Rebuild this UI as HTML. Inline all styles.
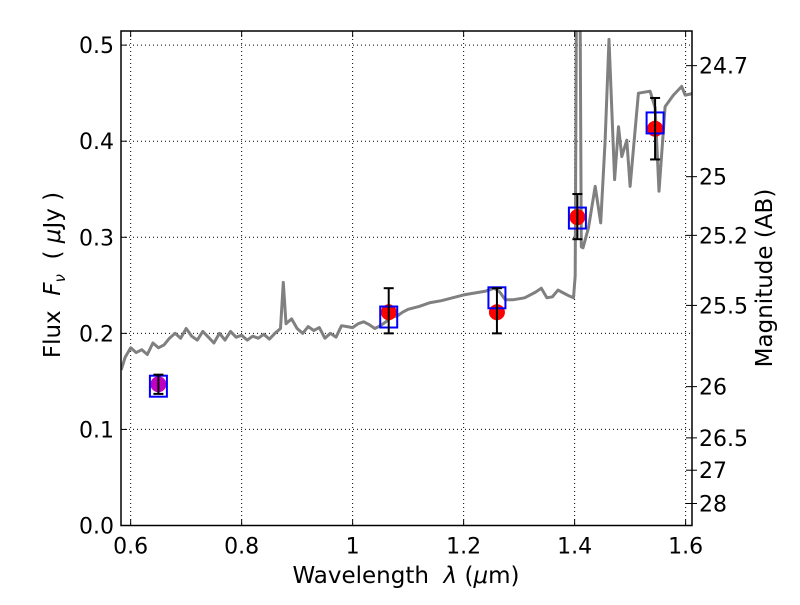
<!DOCTYPE html>
<html><head><meta charset="utf-8"><style>
body{margin:0;background:#fff}
svg text{font-family:"DejaVu Sans","Liberation Sans",sans-serif;fill:#000}
</style></head><body>
<svg id="chart" width="800" height="600" xmlns="http://www.w3.org/2000/svg">
<rect x="0" y="0" width="800" height="600" fill="#fff"/>
<g id="grid"></g>
<g id="spec"></g>
<g id="pts"></g>
<g id="axes"></g>
</svg>
<script>
const xTicks=[0.6,0.8,1.0,1.2,1.4,1.6];
const xTickLabels=["0.6","0.8","1","1.2","1.4","1.6"];
const yTicks=[0,0.1,0.2,0.3,0.4,0.5];
const yTickLabels=["0.0","0.1","0.2","0.3","0.4","0.5"];
const magTicks=[24.7,25,25.2,25.5,26,26.5,27,28];
const magTickLabels=["24.7","25","25.2","25.5","26","26.5","27","28"];
const specWave=[0.583,0.59,0.6,0.61,0.62,0.63,0.64,0.65,0.66,0.67,0.68,0.69,0.70,0.71,0.72,0.73,0.74,0.75,0.76,0.77,0.78,0.79,0.80,0.81,0.82,0.83,0.84,0.85,0.86,0.87,0.875,0.88,0.89,0.90,0.91,0.92,0.93,0.94,0.95,0.96,0.97,0.98,0.99,1.00,1.01,1.02,1.03,1.04,1.05,1.06,1.07,1.08,1.09,1.10,1.12,1.14,1.16,1.18,1.20,1.22,1.24,1.255,1.265,1.275,1.29,1.31,1.33,1.34,1.35,1.36,1.37,1.38,1.39,1.398,1.401,1.403,1.405,1.41,1.412,1.415,1.425,1.437,1.447,1.455,1.462,1.472,1.479,1.485,1.494,1.50,1.515,1.536,1.545,1.552,1.563,1.578,1.593,1.599,1.608,1.613];
const specFlux=[0.162,0.175,0.185,0.180,0.183,0.178,0.190,0.185,0.188,0.195,0.200,0.195,0.205,0.197,0.193,0.202,0.196,0.190,0.200,0.193,0.202,0.196,0.198,0.193,0.197,0.195,0.199,0.194,0.200,0.205,0.253,0.210,0.215,0.205,0.200,0.207,0.203,0.206,0.195,0.200,0.196,0.208,0.207,0.206,0.210,0.212,0.209,0.205,0.208,0.212,0.217,0.218,0.222,0.225,0.228,0.232,0.234,0.237,0.240,0.242,0.244,0.247,0.243,0.235,0.235,0.237,0.243,0.247,0.237,0.238,0.245,0.242,0.239,0.237,0.26,0.52,0.52,0.52,0.29,0.289,0.31,0.353,0.315,0.40,0.506,0.36,0.415,0.384,0.401,0.353,0.450,0.452,0.435,0.348,0.436,0.448,0.457,0.448,0.449,0.45];
const photWave=[0.65,1.065,1.26,1.405,1.545];
const photFlux=[0.147,0.222,0.222,0.321,0.413];
const photErrLo=[0.137,0.200,0.200,0.298,0.381];
const photErrHi=[0.157,0.247,0.247,0.345,0.445];
const modelFlux=[0.145,0.217,0.237,0.320,0.419];
const photColor=["#bf00bf","red","red","red","red"];

const L=121,R=692,T=31,B=525.5;
const X0=0.5826,X1=1.6115,Y0=0,Y1=0.5147;
const sx=v=>L+(v-X0)/(X1-X0)*(R-L);
const sy=v=>B-(v-Y0)/(Y1-Y0)*(B-T);
const NS="http://www.w3.org/2000/svg";
function mk(tag,attrs,parent,txt){const e=document.createElementNS(NS,tag);for(const k in attrs)e.setAttribute(k,attrs[k]);if(txt!==undefined)e.textContent=txt;parent.appendChild(e);return e;}
const grid=document.getElementById('grid'),axes=document.getElementById('axes'),spec=document.getElementById('spec'),pts=document.getElementById('pts');

xTicks.forEach((t,i)=>{const x=sx(t);
 const g=mk('line',{x1:x,x2:x,y1:T,y2:B,stroke:'#000','stroke-width':1,'stroke-dasharray':'1,3'},grid);
 
 mk('line',{x1:x,x2:x,y1:B,y2:B-6,stroke:'#000'},axes);
 mk('line',{x1:x,x2:x,y1:T,y2:T+6,stroke:'#000'},axes);
 const tl=mk('text',{x:x,y:B+28,'font-size':22,'text-anchor':'middle'},axes,xTickLabels[i]);
 
});
yTicks.forEach((t,i)=>{const y=sy(t);
 const g=mk('line',{x1:L,x2:R,y1:y,y2:y,stroke:'#000','stroke-width':1,'stroke-dasharray':'1,3'},grid);
 
 mk('line',{x1:L,x2:L+6,y1:y,y2:y,stroke:'#000'},axes);
 const tl=mk('text',{x:L-7,y:y+8,'font-size':22,'text-anchor':'end'},axes,yTickLabels[i]);
 
});
magTicks.forEach((m,i)=>{const f=Math.pow(10,(23.9-m)/2.5);const y=sy(f);
 mk('line',{x1:R,x2:R-6,y1:y,y2:y,stroke:'#000'},axes);
 mk('line',{x1:R,x2:R+5,y1:y,y2:y,stroke:'#000'},axes);
 const tl=mk('text',{x:R+7,y:y+8,'font-size':22},axes,magTickLabels[i]);
 
});
const clip=mk('clipPath',{id:'pc'},document.getElementById('chart'));
mk('rect',{x:L,y:T,width:R-L,height:B-T},clip);
spec.setAttribute('clip-path','url(#pc)');
const d=specWave.map((w,i)=>(i?'L':'M')+sx(w).toFixed(1)+','+sy(specFlux[i]).toFixed(1)).join(' ');
const sp=mk('path',{d:d,fill:'none',stroke:'#808080','stroke-width':3,'stroke-linejoin':'round'},spec);

photWave.forEach((w,i)=>{const x=sx(w);
 const c=mk('circle',{cx:x,cy:sy(photFlux[i]),r:8,fill:photColor[i]},pts);
 
 const b=mk('rect',{x:x-8.5,y:sy(modelFlux[i])-10.5,width:17,height:21,fill:'none',stroke:'blue','stroke-width':2},pts);
 
 const y1=sy(photErrLo[i]),y2=sy(photErrHi[i]);
 const e=mk('line',{x1:x,x2:x,y1:y1,y2:y2,stroke:'#000','stroke-width':2},pts);
 
 mk('line',{x1:x-5,x2:x+5,y1:y1,y2:y1,stroke:'#000','stroke-width':2},pts);
 mk('line',{x1:x-5,x2:x+5,y1:y2,y2:y2,stroke:'#000','stroke-width':2},pts);
});
const fr=mk('rect',{x:L,y:T,width:R-L,height:B-T,fill:'none',stroke:'#000','stroke-width':1.5},axes);

const xt=mk('text',{x:406,y:583,'font-size':23,'text-anchor':'middle','xml:space':'preserve'},axes);

xt.innerHTML='Wavelength\u00a0\u00a0<tspan font-style="italic">λ</tspan> (<tspan font-style="italic">μ</tspan>m)';
const yt=mk('text',{x:0,y:0,'font-size':23,'text-anchor':'middle',transform:'translate(60,275) rotate(-90)'},axes);

yt.innerHTML='Flux\u00a0\u00a0<tspan font-style="italic">F</tspan><tspan font-style="italic" font-size="15" dy="5">ν</tspan><tspan dy="-5">\u00a0\u00a0(\u00a0</tspan><tspan font-style="italic">μ</tspan>Jy\u00a0)';
const rt=mk('text',{x:0,y:0,'font-size':23,'text-anchor':'middle',transform:'translate(772,278) rotate(-90)'},axes,'Magnitude (AB)');

</script>
</body></html>
